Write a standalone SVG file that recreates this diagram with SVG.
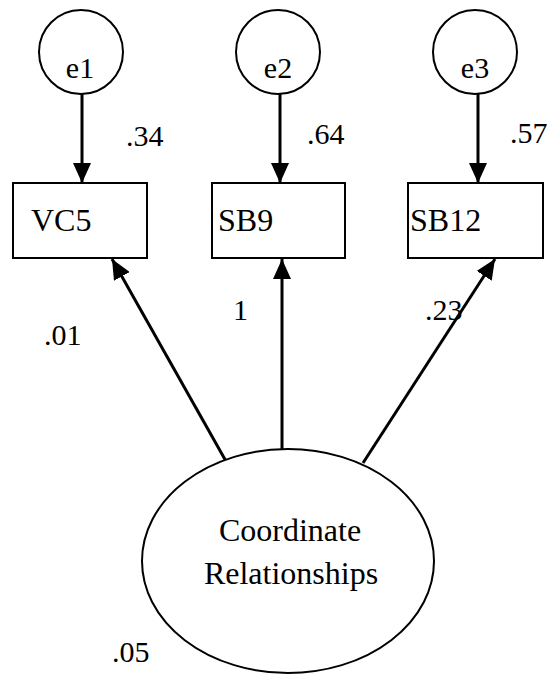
<svg xmlns="http://www.w3.org/2000/svg" width="550" height="678" viewBox="0 0 550 678">
  <defs>
    <marker id="ah" markerUnits="userSpaceOnUse" markerWidth="20" markerHeight="18" refX="20" refY="9" orient="auto">
      <path d="M0,0 L20,9 L0,18 z" fill="#000"/>
    </marker>
    <style>
      .shape { fill: #fff; stroke: #000; stroke-width: 2; }
      .conn { stroke: #000; stroke-width: 3; fill: none; marker-end: url(#ah); }
      .lbl { font-family: "Liberation Serif", "Times New Roman", serif; fill: #000; }
      .node { font-size: 32px; }
      .coef { font-size: 30px; }
      .err { font-size: 30px; text-anchor: middle; }
    </style>
  </defs>
  <rect width="550" height="678" fill="#fff"/>

  <g id="connectors">
    <line class="conn" x1="82" y1="94" x2="82" y2="183"/>
    <line class="conn" x1="280" y1="94" x2="280" y2="183"/>
    <line class="conn" x1="478" y1="94" x2="478" y2="183"/>
    <line class="conn" x1="227" y1="463" x2="112" y2="259"/>
    <line class="conn" x1="282" y1="450" x2="282" y2="259"/>
    <line class="conn" x1="363" y1="463" x2="495" y2="259"/>
  </g>

  <g id="e1">
    <circle class="shape" cx="81" cy="52" r="42"/>
    <text class="lbl err" x="80" y="78">e1</text>
  </g>
  <g id="e2">
    <circle class="shape" cx="278" cy="52" r="42"/>
    <text class="lbl err" x="278" y="78">e2</text>
  </g>
  <g id="e3">
    <circle class="shape" cx="475" cy="52" r="42"/>
    <text class="lbl err" x="475" y="78">e3</text>
  </g>

  <g id="VC5">
    <rect class="shape" x="13" y="183" width="134" height="75"/>
    <text class="lbl node" x="31" y="231">VC5</text>
  </g>
  <g id="SB9">
    <rect class="shape" x="212" y="183" width="133" height="75"/>
    <text class="lbl node" x="218" y="231">SB9</text>
  </g>
  <g id="SB12">
    <rect class="shape" x="408" y="183" width="135" height="75"/>
    <text class="lbl node" x="410" y="231">SB12</text>
  </g>

  <g id="CoordinateRelationships">
    <ellipse class="shape" cx="288" cy="561" rx="146" ry="112"/>
    <text class="lbl node" x="290" y="541" text-anchor="middle">Coordinate</text>
    <text class="lbl node" x="291" y="584" text-anchor="middle">Relationships</text>
  </g>

  <g id="coefficients">
    <text class="lbl coef" x="126" y="146">.34</text>
    <text class="lbl coef" x="307" y="144">.64</text>
    <text class="lbl coef" x="510" y="143">.57</text>
    <text class="lbl coef" x="44" y="345">.01</text>
    <text class="lbl coef" x="233" y="320">1</text>
    <text class="lbl coef" x="425" y="320">.23</text>
    <text class="lbl coef" x="112" y="662">.05</text>
  </g>
</svg>
